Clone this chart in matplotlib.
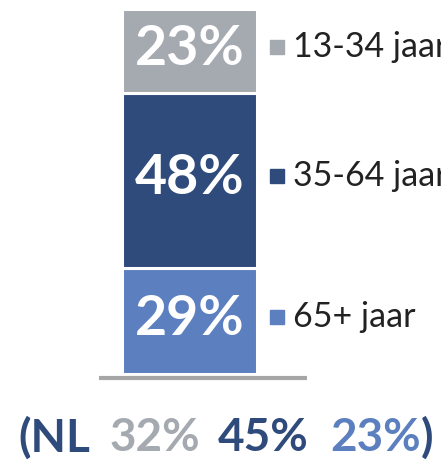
import matplotlib
matplotlib.use('Agg')
import matplotlib.pyplot as plt
import matplotlib.transforms as mtransforms

# data
groups = ['65+ jaar', '35-64 jaar', '13-34 jaar']
shares = [29, 48, 23]
colors = ['#5b7fbf', '#2f4b7c', '#a5a9b0']
nl_shares = [32, 45, 23]        # NL: 13-34, 35-64, 65+
nl_colors = ['#a5a9b0', '#2f4b7c', '#5b7fbf']
navy = '#2f4b7c'

plt.rcParams['font.family'] = ['Lato', 'DejaVu Sans']

W, H = 441, 473
fig = plt.figure(figsize=(W / 100, H / 100), dpi=100)
# axes box = bar area (pixels)
ax = fig.add_axes([122 / W, (H - 374) / H, 135 / W, 365 / H])
ax.set_xlim(-0.5, 0.5)
ax.set_ylim(0, 100)
ax.axis('off')

tr = mtransforms.blended_transform_factory(ax.transAxes, ax.transData)
bottom = 0
for g, v, c in zip(groups, shares, colors):
    ax.bar(0, v, width=1, bottom=bottom, color=c, edgecolor='white', linewidth=2.2)
    mid = bottom + v / 2
    ax.text(0, mid + 0.6, '%d%%' % v, ha='center', va='center', color='white',
            fontsize=40, fontweight='bold')
    ax.plot([1.15], [mid + 1.2], marker='s', markersize=9.5, color=c,
            transform=tr, clip_on=False)
    ax.text(1.27, mid + 1.2, g, ha='left', va='center', color='#222222',
            fontsize=24.5, transform=tr, clip_on=False)
    bottom += v

# baseline
ax.plot([-0.17, 1.37], [-0.011, -0.011], color='#a6a6a6', linewidth=3,
        transform=ax.transAxes, clip_on=False, solid_capstyle='butt')

# NL comparison line
pieces = ['(NL', '%d%%' % nl_shares[0], '%d%%' % nl_shares[1], '%d%%' % nl_shares[2], ')']
piece_colors = [navy] + nl_colors + [navy]
xs = [18, 110, 218, 330, 421]
for p, c, x in zip(pieces, piece_colors, xs):
    fig.text(x / W, 1 - 438 / H, p, ha='left', va='center', color=c,
             fontsize=33, fontweight='bold')

fig.savefig('out.png', dpi=100, facecolor='white')
